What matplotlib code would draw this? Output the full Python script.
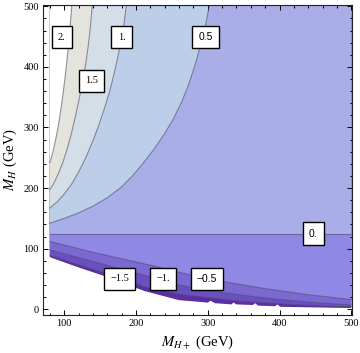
import matplotlib
matplotlib.use("Agg")
import matplotlib.pyplot as plt
from matplotlib.ticker import MultipleLocator

plt.rcParams['font.family'] = ['Liberation Serif', 'DejaVu Serif']
plt.rcParams['mathtext.fontset'] = 'stix'

# plot domain (GeV)
x_range = [80, 500]
y_range = [0, 500]

# contour lines (M_H+ , M_H)
c2_x = [80, 83, 86, 89, 92, 95, 98, 101, 104, 107, 110.5]
c2_y = [242, 254, 268, 285, 304, 327, 352, 380, 412, 447, 500]

c15_x = [80, 86, 92, 98, 104, 110, 116, 121, 126, 130, 133, 136, 139]
c15_y = [197, 209, 224, 242, 264, 290, 320, 348, 378, 405, 430, 460, 500]

c1_x = [80, 90, 100, 110, 120, 130, 140, 148, 156, 163, 169, 174, 179, 183, 186.5]
c1_y = [167, 177, 190, 206, 226, 250, 278, 303, 331, 358, 386, 412, 442, 468, 500]

c05_x = [80, 100, 120, 140, 160, 180, 195, 210, 225, 240, 252, 264, 274, 283, 291, 297, 302]
c05_y = [142, 150, 159, 170, 184, 202, 220, 241, 264, 290, 314, 343, 373, 406, 440, 469, 500]

c0_x = [80, 500]
c0_y = [125, 125]

cm05_x = [80, 110, 140, 170, 200, 230, 260, 290, 320, 350, 380, 410, 440, 470, 500]
cm05_y = [112, 103, 94, 86, 78, 70, 61, 53, 46, 40, 34, 29, 24, 20, 16]

cm1_x = [80, 130, 180, 238, 260, 300, 350, 400, 450, 500]
cm1_y = [98, 82, 66, 48, 40, 31, 23, 16, 11, 7]

cm15_x = [80, 130, 174, 212, 260, 300, 350, 400, 450, 500]
cm15_y = [89, 70, 53, 37, 25, 19, 13, 9, 6, 4]

# lower edge of the computed region (white below)
edge_x = [80, 120, 158, 212, 260, 300, 304, 310, 333, 336, 340, 363, 366, 370,
          394, 397, 401, 450, 500]
edge_y = [86, 69, 54, 30, 15, 11, 14, 10, 8, 11, 8, 7, 10, 6, 5, 8, 4, 3, 2]

# contour labels: text, M_H+, M_H
labels = [("2.", 96.8, 449), ("1.", 179.9, 449), ("1.5", 138.4, 377),
          ("0.5", 297.3, 449), ("0.", 447, 125),
          ("\u22121.5", 177, 50), ("\u22121.", 238, 50), ("\u22120.5", 299, 50)]
sans_labels = ["0.5", "0.", "\u22120.5"]

colors = {
    "lt_m15": "#5b2fa2",
    "m15_m1": "#6a4fc0",
    "m1_m05": "#7b68d1",
    "m05_0": "#8f88e4",
    "0_05": "#a9aee8",
    "05_1": "#bdcfe8",
    "1_15": "#d4dee6",
    "15_2": "#e5e4dc",
    "gt_2": "white",
}


def fill_above(ax, xs, ys, color):
    px = list(xs) + [x_range[1], x_range[0]]
    py = list(ys) + [y_range[1], y_range[1]]
    ax.fill(px, py, color=color, lw=0)


def fill_left(ax, xs, ys, color):
    px = list(xs) + [x_range[0]]
    py = list(ys) + [y_range[1]]
    ax.fill(px, py, color=color, lw=0)


fig = plt.figure(figsize=(3.6, 3.53), dpi=100)
ax = fig.add_axes([43 / 360, 38 / 353, 309 / 360, 310.5 / 353])

fill_above(ax, edge_x, edge_y, colors["lt_m15"])
fill_above(ax, cm15_x, cm15_y, colors["m15_m1"])
fill_above(ax, cm1_x, cm1_y, colors["m1_m05"])
fill_above(ax, cm05_x, cm05_y, colors["m05_0"])
fill_above(ax, c0_x, c0_y, colors["0_05"])
fill_left(ax, c05_x, c05_y, colors["05_1"])
fill_left(ax, c1_x, c1_y, colors["1_15"])
fill_left(ax, c15_x, c15_y, colors["15_2"])
fill_left(ax, c2_x, c2_y, colors["gt_2"])

line_kw = dict(color="#50506e", lw=0.8, alpha=0.6)
for xs, ys in [(c2_x, c2_y), (c15_x, c15_y), (c1_x, c1_y), (c05_x, c05_y),
               (c0_x, c0_y), (cm05_x, cm05_y), (cm1_x, cm1_y), (cm15_x, cm15_y)]:
    ax.plot(xs, ys, **line_kw)

for txt, lx, ly in labels:
    fam = ['Liberation Sans'] if txt in sans_labels else ['Liberation Serif']
    ax.text(lx, ly, txt, ha="center", va="center", fontsize=7.5, family=fam,
            bbox=dict(boxstyle="square,pad=0.6", fc="white", ec="black", lw=1.0))

ax.set_xlim(70.5, 501)
ax.set_ylim(-9.5, 503)
ax.xaxis.set_major_locator(MultipleLocator(100))
ax.xaxis.set_minor_locator(MultipleLocator(20))
ax.yaxis.set_major_locator(MultipleLocator(100))
ax.yaxis.set_minor_locator(MultipleLocator(20))
ax.tick_params(which="both", direction="in", top=True, right=True,
               labeltop=False, labelright=False, labelsize=7.5, pad=3, width=0.7)
ax.tick_params(which="major", length=3.6)
ax.tick_params(which="minor", length=1.8)
for s in ax.spines.values():
    s.set_linewidth(0.8)
    s.set_color("#222222")

ax.set_xlabel("$M_{H+}$ (GeV)", fontsize=10.5, labelpad=4)
ax.set_ylabel("$M_{H}$ (GeV)", fontsize=10.5, labelpad=3)

fig.savefig("out.png", dpi=100)
